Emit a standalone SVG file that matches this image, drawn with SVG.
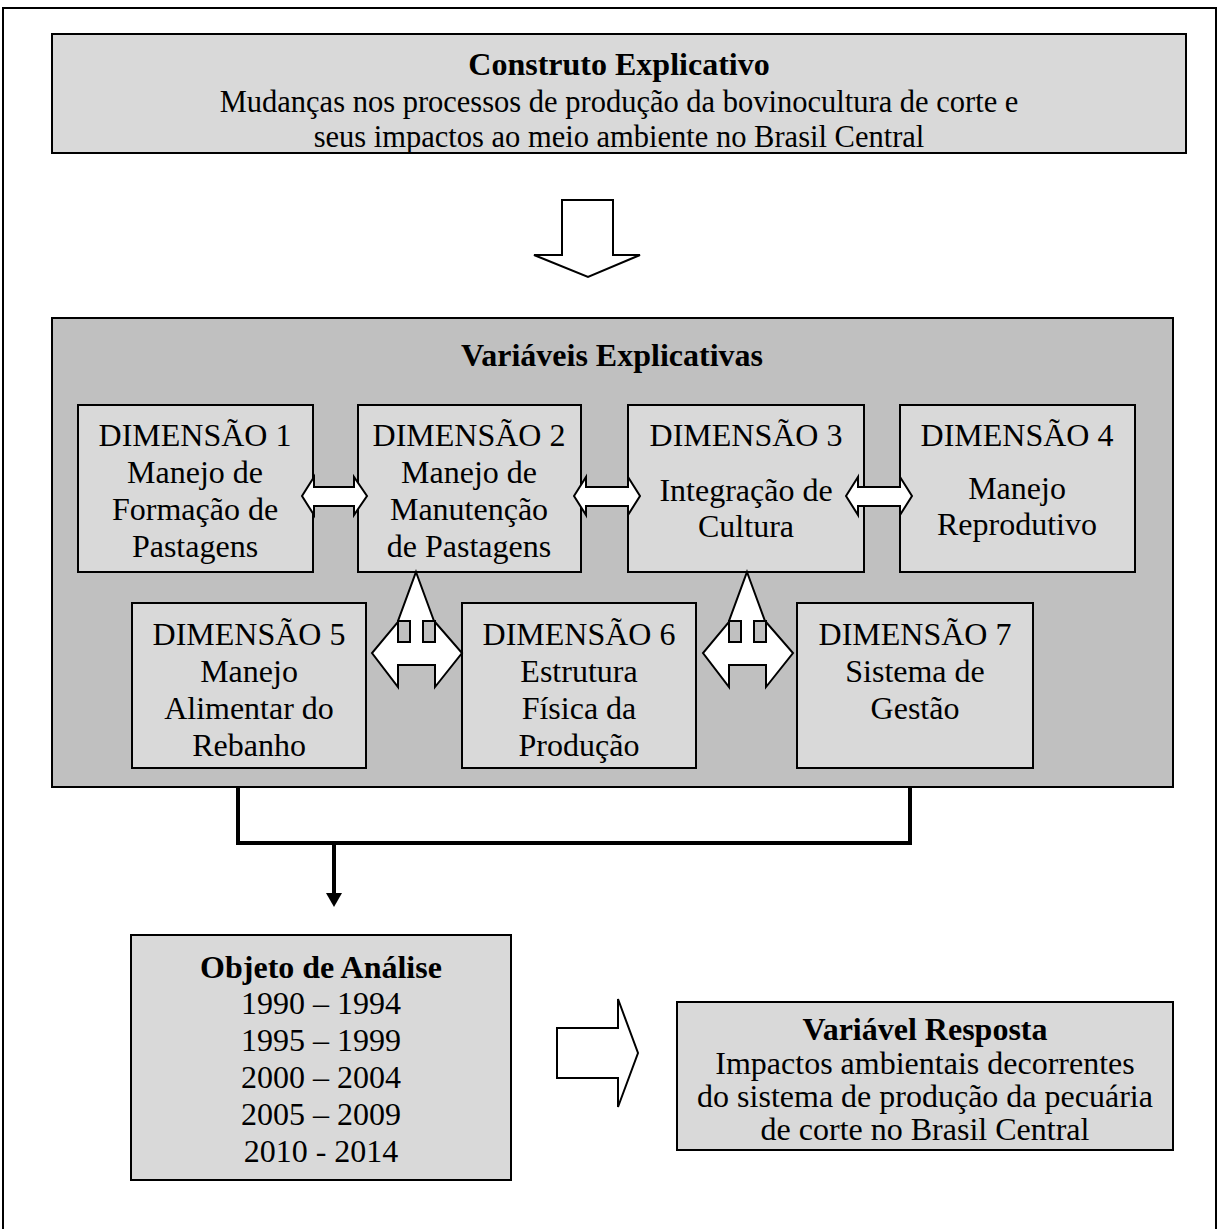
<svg xmlns="http://www.w3.org/2000/svg" width="1219" height="1229" viewBox="0 0 1219 1229">
<style>
.box{fill:#d9d9d9;stroke:#000;stroke-width:2}
.big{fill:#c0c0c0;stroke:#000;stroke-width:2}
.blk{fill:#fff;stroke:#000;stroke-width:2;stroke-linejoin:miter}
.hole{fill:#c0c0c0;stroke:#000;stroke-width:2}
.t{font-family:"Liberation Serif","Times New Roman",serif;font-size:32px;fill:#000;text-anchor:middle}
.b{font-weight:bold}
.line{fill:none;stroke:#000;stroke-width:4}
</style>
<rect width="1219" height="1229" fill="#fff"/>
<rect x="3" y="8" width="1213" height="1240" fill="none" stroke="#000" stroke-width="2"/>

<g id="construto">
<rect class="box" x="52" y="34" width="1134" height="119"/>
<text class="t b" x="619" y="75">Construto Explicativo</text>
<text class="t" x="619" y="112" style="font-size:30.5px">Mudanças nos processos de produção da bovinocultura de corte e</text>
<text class="t" x="619" y="147" style="font-size:30.5px">seus impactos ao meio ambiente no Brasil Central</text>
</g>

<g id="variaveis">
<rect class="big" x="52" y="318" width="1121" height="469"/>
<text class="t b" x="612" y="366">Variáveis Explicativas</text>
</g>

<g id="dim1">
<rect class="box" x="78" y="405" width="235" height="167"/>
<text class="t" x="195" y="446">DIMENSÃO 1</text>
<text class="t" x="195" y="483">Manejo de</text>
<text class="t" x="195" y="520">Formação de</text>
<text class="t" x="195" y="557">Pastagens</text>
</g>
<g id="dim2">
<rect class="box" x="358" y="405" width="223" height="167"/>
<text class="t" x="469" y="446">DIMENSÃO 2</text>
<text class="t" x="469" y="483">Manejo de</text>
<text class="t" x="469" y="520">Manutenção</text>
<text class="t" x="469" y="557">de Pastagens</text>
</g>
<g id="dim3">
<rect class="box" x="628" y="405" width="236" height="167"/>
<text class="t" x="746" y="446">DIMENSÃO 3</text>
<text class="t" x="746" y="501">Integração de</text>
<text class="t" x="746" y="537">Cultura</text>
</g>
<g id="dim4">
<rect class="box" x="900" y="405" width="235" height="167"/>
<text class="t" x="1017" y="446">DIMENSÃO 4</text>
<text class="t" x="1017" y="499">Manejo</text>
<text class="t" x="1017" y="535">Reprodutivo</text>
</g>
<g id="dim5">
<rect class="box" x="132" y="603" width="234" height="165"/>
<text class="t" x="249" y="645">DIMENSÃO 5</text>
<text class="t" x="249" y="682">Manejo</text>
<text class="t" x="249" y="719">Alimentar do</text>
<text class="t" x="249" y="756">Rebanho</text>
</g>
<g id="dim6">
<rect class="box" x="462" y="603" width="234" height="165"/>
<text class="t" x="579" y="645">DIMENSÃO 6</text>
<text class="t" x="579" y="682">Estrutura</text>
<text class="t" x="579" y="719">Física da</text>
<text class="t" x="579" y="756">Produção</text>
</g>
<g id="dim7">
<rect class="box" x="797" y="603" width="236" height="165"/>
<text class="t" x="915" y="645">DIMENSÃO 7</text>
<text class="t" x="915" y="682">Sistema de</text>
<text class="t" x="915" y="719">Gestão</text>
</g>

<g id="objeto">
<rect class="box" x="131" y="935" width="380" height="245"/>
<text class="t b" x="321" y="978">Objeto de Análise</text>
<text class="t" x="321" y="1014">1990 – 1994</text>
<text class="t" x="321" y="1051">1995 – 1999</text>
<text class="t" x="321" y="1088">2000 – 2004</text>
<text class="t" x="321" y="1125">2005 – 2009</text>
<text class="t" x="321" y="1162">2010 - 2014</text>
</g>

<g id="resposta">
<rect class="box" x="677" y="1002" width="496" height="148"/>
<text class="t b" x="925" y="1040">Variável Resposta</text>
<text class="t" x="925" y="1074">Impactos ambientais decorrentes</text>
<text class="t" x="925" y="1107">do sistema de produção da pecuária</text>
<text class="t" x="925" y="1140">de corte no Brasil Central</text>
</g>

<g id="connectors">
<polygon class="blk" points="562,200 613,200 613,255 640,255 588,277 534,255 562,255"/>
<polygon class="blk" points="302,496 314,477 314,487 354,487 354,477 367,496 354,515 354,506 314,506 314,515"/>
<polygon class="blk" points="574,496 586,477 586,487 628,487 628,477 640,496 628,515 628,506 586,506 586,515"/>
<polygon class="blk" points="846,496 858,477 858,487 900,487 900,477 912,496 900,515 900,506 858,506 858,515"/>
<polygon class="blk" points="416,572 434,621 435,622 462,653 435,687 435,665 398,665 398,687 372,653 398,622 398,621"/>
<rect class="hole" x="398" y="621" width="12" height="21"/>
<rect class="hole" x="423" y="621" width="12" height="21"/>
<polygon class="blk" points="747,572 765,621 766,622 793,653 766,687 766,665 729,665 729,687 703,653 729,622 729,621"/>
<rect class="hole" x="729" y="621" width="12" height="21"/>
<rect class="hole" x="754" y="621" width="12" height="21"/>
<polyline class="line" points="238,787 238,843 910,843 910,787"/>
<line x1="334" y1="843" x2="334" y2="894" stroke="#000" stroke-width="4"/>
<polygon points="326,893 342,893 334,907" fill="#000"/>
<polygon class="blk" points="557,1028 618,1028 618,999 638,1053 618,1107 618,1078 557,1078"/>
</g>
</svg>
